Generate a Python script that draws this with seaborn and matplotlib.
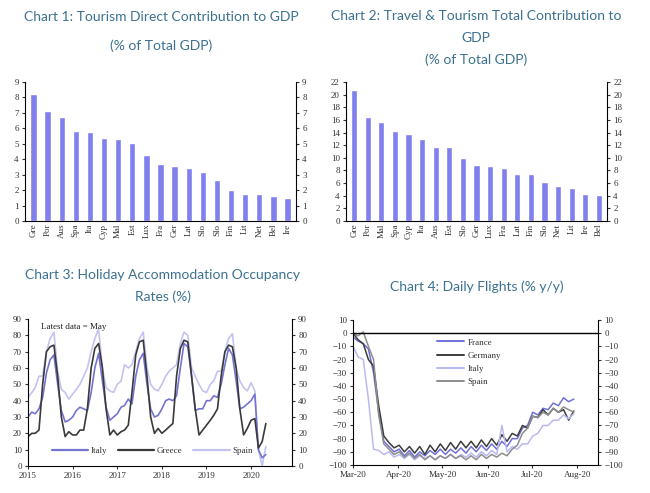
import pandas as pd
import matplotlib
matplotlib.use("Agg")
import matplotlib.pyplot as plt
import matplotlib.dates as mdates
import seaborn as sns

# Chart 1: tourism direct contribution to GDP (% of total GDP)
c1_countries = ["Gre", "Por", "Aus", "Spa", "Ita", "Cyp", "Mal", "Est", "Lux", "Fra",
                "Ger", "Lat", "Slo", "Slo", "Fin", "Lit", "Net", "Bel", "Ire"]
c1_values = [8.2, 7.15, 6.75, 5.85, 5.75, 5.35, 5.3, 5.05, 4.3, 3.7,
             3.55, 3.4, 3.2, 2.65, 2.0, 1.75, 1.75, 1.6, 1.5]

# Chart 2: travel & tourism total contribution to GDP
c2_countries = ["Gre", "Por", "Mal", "Spa", "Cyp", "Ita", "Aus", "Est", "Slo", "Ger",
                "Lux", "Fra", "Lat", "Fin", "Slo", "Net", "Lit", "Ire", "Bel"]
c2_values = [20.7, 16.5, 15.7, 14.2, 13.7, 12.9, 11.7, 11.7, 9.9, 8.9,
             8.7, 8.4, 7.5, 7.4, 6.2, 5.6, 5.3, 4.2, 4.1]

# Chart 3: holiday accommodation occupancy rates (%), monthly Jan 2015 - May 2020
c3_italy = [30, 33, 32, 35, 42, 57, 65, 68, 50, 34, 27, 28,
            30, 34, 36, 35, 34, 45, 60, 69, 52, 36, 28, 30,
            32, 36, 37, 41, 38, 55, 65, 69, 50, 35, 30, 31,
            35, 40, 41, 40, 43, 60, 75, 73, 55, 34, 35, 35,
            40, 40, 43, 42, 50, 62, 72, 68, 52, 35, 36, 38,
            40, 44, 10, 5, 7]
c3_greece = [18, 20, 20, 22, 50, 70, 73, 74, 55, 30, 18, 21,
             19, 19, 22, 22, 35, 60, 72, 75, 60, 35, 19, 22,
             19, 21, 22, 25, 45, 68, 76, 77, 55, 30, 20, 23,
             20, 22, 24, 26, 55, 72, 77, 76, 55, 35, 19, 22,
             25, 28, 31, 35, 55, 70, 74, 73, 60, 35, 19, 23,
             28, 29, 11, 15, 26]
c3_spain = [42, 45, 48, 55, 55, 70, 78, 82, 58, 47, 45, 41,
            44, 47, 50, 55, 60, 70, 78, 84, 60, 48, 46, 45,
            50, 52, 62, 60, 62, 70, 78, 82, 60, 50, 47, 46,
            50, 55, 58, 60, 62, 75, 82, 80, 60, 55, 50, 46,
            45, 50, 52, 58, 58, 70, 78, 81, 60, 52, 48, 46,
            51, 46, 10, 0, 12]

# Chart 4: daily flights (% y/y), read twice a week from 1 Mar 2020
c4_france = [-3, -6, -8, -12, -30, -60, -82, -86, -90, -88, -93, -89, -94, -90, -93,
             -89, -92, -88, -92, -88, -91, -87, -91, -86, -90, -85, -89, -84, -88, -82,
             -86, -80, -80, -72, -70, -60, -62, -57, -58, -53, -55, -49, -52, -50]
c4_germany = [0, -5, -8, -20, -25, -55, -78, -83, -87, -85, -90, -86, -91, -86, -92,
              -85, -90, -84, -89, -83, -88, -82, -87, -82, -87, -81, -86, -80, -85, -77,
              -82, -76, -78, -70, -72, -63, -64, -58, -62, -57, -60, -58, -66, -59]
c4_italy = [-10, -18, -20, -50, -88, -89, -92, -90, -94, -92, -95, -92, -96, -93, -95,
            -93, -96, -93, -95, -92, -95, -92, -94, -91, -94, -90, -93, -89, -92, -70,
            -90, -86, -88, -84, -84, -78, -76, -70, -70, -66, -66, -62, -65, -61]
c4_spain = [0, -2, 1, -10, -20, -62, -84, -88, -92, -90, -94, -91, -95, -92, -96,
            -93, -96, -93, -95, -92, -95, -93, -96, -93, -96, -92, -95, -92, -94, -91,
            -93, -88, -85, -76, -72, -63, -64, -60, -62, -57, -60, -56, -58, -60]

title_color = "#3c7190"
bar_color = "#7f80ee"
tick_color = "#333333"

sns.set_style("ticks")
plt.rcParams["font.family"] = ["Liberation Serif", "DejaVu Serif"]

fig = plt.figure(figsize=(6.5, 4.93), dpi=100)


def style_axis(ax):
    ax.spines["top"].set_visible(False)
    ax.spines["right"].set_visible(True)
    for s in ["left", "right", "bottom"]:
        ax.spines[s].set_linewidth(0.8)
        ax.spines[s].set_color("black")
    ax.tick_params(axis="both", labelsize=6.5, colors=tick_color, length=2.5, width=0.8,
                   right=True, labelright=True, pad=2)
    ax.set_xlabel("")
    ax.set_ylabel("")


def add_title(x, y_list, lines):
    for y, line in zip(y_list, lines):
        fig.text(x / 650, 1 - y / 493, line, ha="center", va="center",
                 fontsize=10, color=title_color, family="Lato")


def bar_chart(rect, countries, values, ymax, ystep):
    ax = fig.add_axes(rect)
    df = pd.DataFrame({"pos": list(range(len(countries))), "value": values})
    sns.barplot(data=df, x="pos", y="value", ax=ax, color=bar_color,
                saturation=1, width=0.45)
    ax.set_xticks(range(len(countries)))
    ax.set_xticklabels(countries, rotation=90)
    ax.set_xlim(-0.6, len(countries) - 0.4)
    ax.set_ylim(0, ymax)
    ax.set_yticks(range(0, ymax + 1, ystep))
    style_axis(ax)
    ax.tick_params(axis="x", length=0)
    return ax


# ---- Chart 1
bar_chart([25 / 650, 1 - 221 / 493, 271 / 650, 139 / 493], c1_countries, c1_values, 9, 1)
add_title(161, [17, 46], ["Chart 1: Tourism Direct Contribution to GDP", "(% of Total GDP)"])

# ---- Chart 2
bar_chart([346 / 650, 1 - 221 / 493, 261 / 650, 139 / 493], c2_countries, c2_values, 22, 2)
add_title(476, [16, 38, 60], ["Chart 2: Travel & Tourism Total Contribution to", "GDP",
                              "(% of Total GDP)"])

# ---- Chart 3
ax3 = fig.add_axes([28 / 650, 1 - 466 / 493, 264 / 650, 147 / 493])
months = pd.date_range("2015-01-01", periods=len(c3_italy), freq="MS")
occ = pd.DataFrame({
    "date": list(months) * 3,
    "rate": c3_italy + c3_greece + c3_spain,
    "country": ["Italy"] * len(months) + ["Greece"] * len(months) + ["Spain"] * len(months),
})
c3_palette = {"Italy": "#7474d2", "Greece": "#3a3a3a", "Spain": "#c3c3f2"}
sns.lineplot(data=occ, x="date", y="rate", hue="country", palette=c3_palette,
             hue_order=["Spain", "Italy", "Greece"], linewidth=1.2, ax=ax3, legend=False)
ax3.set_ylim(0, 90)
ax3.set_yticks(range(0, 91, 10))
ax3.set_xlim(pd.Timestamp("2015-01-01"), pd.Timestamp("2020-12-01"))
ax3.xaxis.set_major_locator(mdates.YearLocator())
ax3.xaxis.set_major_formatter(mdates.DateFormatter("%Y"))
style_axis(ax3)
handles = [plt.Line2D([], [], color=c3_palette[c], linewidth=1.6) for c in ["Italy", "Greece", "Spain"]]
ax3.legend(handles, ["Italy", "Greece", "Spain"], ncol=3, frameon=False, fontsize=6.5,
           loc="lower left", bbox_to_anchor=(0.06, 0.02), handlelength=4.0,
           columnspacing=1.2, handletextpad=0.3, labelcolor=tick_color)
ax3.text(0.05, 0.97, "Latest data = May", transform=ax3.transAxes, fontsize=6.5,
         color="#222222", va="top", ha="left")
add_title(163, [275, 297], ["Chart 3: Holiday Accommodation Occupancy", "Rates (%)"])

# ---- Chart 4
ax4 = fig.add_axes([353 / 650, 1 - 465 / 493, 245 / 650, 145 / 493])
days = pd.date_range("2020-03-01", periods=len(c4_france), freq="84h")
flights = pd.DataFrame({
    "date": list(days) * 4,
    "change": c4_france + c4_germany + c4_italy + c4_spain,
    "country": (["France"] * len(days) + ["Germany"] * len(days)
                + ["Italy"] * len(days) + ["Spain"] * len(days)),
})
c4_order = ["France", "Germany", "Italy", "Spain"]
c4_palette = {"France": "#7070d8", "Germany": "#3c3c3c", "Italy": "#b9b9f2", "Spain": "#8d8d8d"}
sns.lineplot(data=flights, x="date", y="change", hue="country", palette=c4_palette,
             hue_order=c4_order, linewidth=1.1, ax=ax4, legend=False)
ax4.axhline(0, color="black", linewidth=1.0)
ax4.set_ylim(-100, 10)
ax4.set_yticks(range(-100, 11, 10))
ax4.set_xlim(pd.Timestamp("2020-03-01"), pd.Timestamp("2020-08-15"))
ax4.xaxis.set_major_locator(mdates.MonthLocator())
ax4.xaxis.set_major_formatter(mdates.DateFormatter("%b-%y"))
style_axis(ax4)
handles = [plt.Line2D([], [], color=c4_palette[c], linewidth=1.4) for c in c4_order]
ax4.legend(handles, c4_order, frameon=False, fontsize=6.5, loc="upper left",
           bbox_to_anchor=(0.31, 0.93), handlelength=3.0, handletextpad=0.4,
           labelspacing=0.55, labelcolor=tick_color)
add_title(477, [287], ["Chart 4: Daily Flights (% y/y)"])

fig.savefig("out.png", dpi=100)
